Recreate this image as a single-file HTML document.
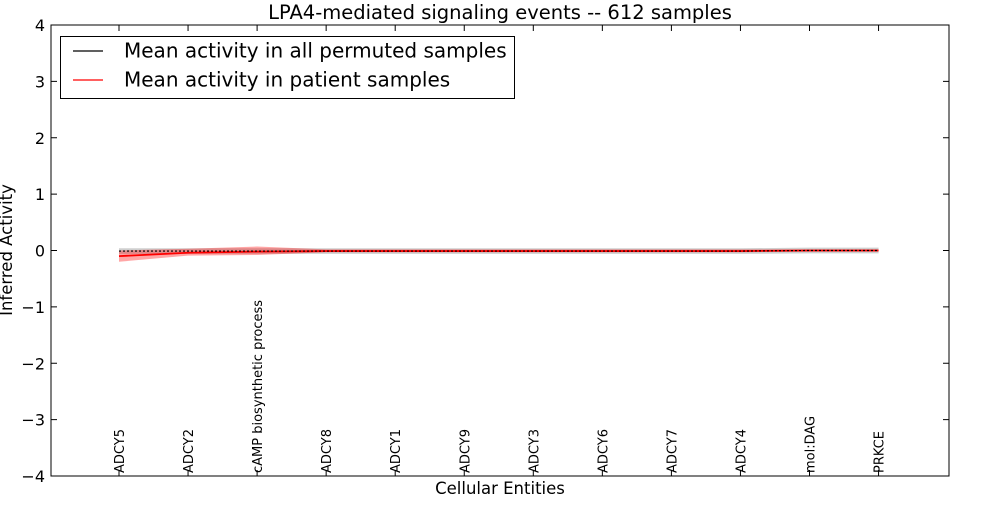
<!DOCTYPE html>
<html><head><meta charset="utf-8"><style>
body{margin:0;background:#fff;}
svg text{font-family:"DejaVu Sans","Liberation Sans",sans-serif;}
</style></head><body>
<svg id="chart" width="1000" height="500" xmlns="http://www.w3.org/2000/svg"></svg>
<script>
const categories=["ADCY5","ADCY2","cAMP biosynthetic process","ADCY8","ADCY1","ADCY9","ADCY3","ADCY6","ADCY7","ADCY4","mol:DAG","PRKCE"];
const permMean=[-0.01,-0.01,-0.01,-0.01,-0.01,-0.01,-0.01,-0.01,-0.01,-0.01,0.0,0.0];
const permLo=[-0.06,-0.06,-0.06,-0.06,-0.06,-0.06,-0.06,-0.06,-0.06,-0.06,-0.05,-0.05];
const permHi=[0.04,0.04,0.04,0.04,0.04,0.04,0.04,0.04,0.04,0.04,0.05,0.05];
const patMean=[-0.1,-0.04,-0.02,-0.01,-0.01,-0.01,-0.01,-0.01,-0.01,-0.01,0.0,0.0];
const patLo=[-0.2,-0.09,-0.08,-0.03,-0.03,-0.03,-0.03,-0.03,-0.03,-0.03,-0.02,-0.02];
const patHi=[0.0,0.03,0.07,0.02,0.02,0.02,0.02,0.02,0.02,0.02,0.02,0.02];
const yTicks=[-4,-3,-2,-1,0,1,2,3,4];
const yTickLabels=["\u22124","\u22123","\u22122","\u22121","0","1","2","3","4"];

const svg=document.getElementById('chart');
const NS="http://www.w3.org/2000/svg";
const L=51,R=949,T=25,B=476;
const x=i=>119+i*69.05;
const y=v=>T+(4-v)/8*(B-T);
function mk(tag,attrs,parent){const e=document.createElementNS(NS,tag);for(const k in attrs)e.setAttribute(k,attrs[k]);(parent||svg).appendChild(e);return e;}

function band(lo,hi,fill,op,name){
  let d="M"+lo.map((v,i)=>x(i)+","+y(v)).join("L");
  for(let i=hi.length-1;i>=0;i--)d+="L"+x(i)+","+y(hi[i]);
  const p=mk('path',{d:d+"Z",fill:fill,'fill-opacity':op,stroke:'none'});
  
  
}
function line(vals,color,dash,w,name){
  const p=mk('path',{d:"M"+vals.map((v,i)=>x(i)+","+y(v)).join("L"),fill:'none',stroke:color,'stroke-width':w,'stroke-dasharray':dash});
  
  
}
band(permLo,permHi,'#888',0.4,'permuted-band');
band(patLo,patHi,'#f00',0.35,'patient-band');
line(patMean,'#f00','none',1.8,'patient-mean-line');
line(permMean,'#000','2,2',1.2,'permuted-mean-line');

const fr=mk('rect',{x:L,y:T,width:R-L,height:B-T,fill:'none',stroke:'#000','stroke-width':1});



yTicks.forEach((v,i)=>{
  mk('line',{x1:L,x2:L+6,y1:y(v),y2:y(v),stroke:'#000'});
  mk('line',{x1:R,x2:R-6,y1:y(v),y2:y(v),stroke:'#000'});
  const t=mk('text',{x:L-6,y:y(v)+6,'text-anchor':'end','font-size':16});
  t.textContent=yTickLabels[i];
  
  
});
categories.forEach((c,i)=>{
  mk('line',{x1:x(i),x2:x(i),y1:B,y2:B-6,stroke:'#000'});
  mk('line',{x1:x(i),x2:x(i),y1:T,y2:T+6,stroke:'#000'});
  const t=mk('text',{x:0,y:0,'font-size':13,transform:`translate(${x(i)+5},${B-3}) rotate(-90)`});
  t.textContent=c;
  
  
});
</script>
<svg style="position:absolute;left:0;top:0" width="1000" height="500" xmlns="http://www.w3.org/2000/svg">
<text x="500" y="19" text-anchor="middle" font-size="19.5" font-family="DejaVu Sans, Liberation Sans, sans-serif">LPA4-mediated signaling events -- 612 samples</text>
<text x="500" y="494" text-anchor="middle" font-size="16.5" font-family="DejaVu Sans, Liberation Sans, sans-serif">Cellular Entities</text>
<text transform="translate(12,250) rotate(-90)" text-anchor="middle" font-size="16.5" font-family="DejaVu Sans, Liberation Sans, sans-serif">Inferred Activity</text>
<g>
<rect x="60.5" y="36.5" width="454" height="62" fill="#fff" stroke="#000"/>
<line x1="73" x2="103" y1="51" y2="51" stroke="#000" stroke-width="1.2"/>
<text x="124" y="57.5" font-size="20" font-family="DejaVu Sans, Liberation Sans, sans-serif">Mean activity in all permuted samples</text>
<line x1="73" x2="103" y1="80" y2="80" stroke="#f00" stroke-width="1.2"/>
<text x="124" y="86.5" font-size="20" font-family="DejaVu Sans, Liberation Sans, sans-serif">Mean activity in patient samples</text>
</g>
</svg>
</body></html>
